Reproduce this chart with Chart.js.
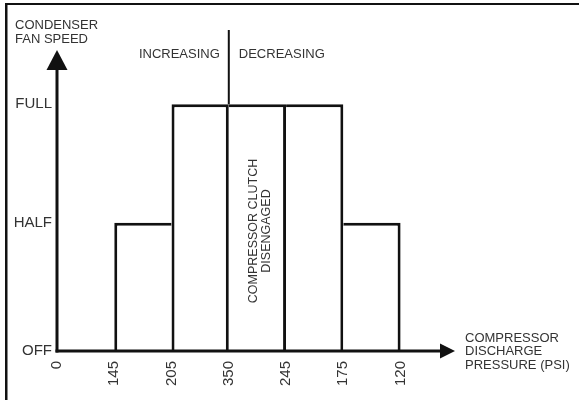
<!DOCTYPE html>
<html>
<head>
<meta charset="utf-8">
<script src="https://cdn.jsdelivr.net/npm/chart.js@4"></script>
<style>
  html, body { margin: 0; padding: 0; background: #fff; }
  #wrap { width: 579px; height: 400px; position: relative; }
</style>
</head>
<body>
<div id="wrap"><canvas id="fanChart"></canvas></div>
<script>
// pressure tick labels along the x axis (psi), left to right
const pressureTicks = ['0', '145', '205', '350', '245', '175', '120'];
// fan speed levels on the y axis
const speedNames = ['OFF', 'HALF', 'FULL'];
const speedValues = [0, 52, 100];
// fan speed in each band between consecutive pressure ticks (from 145 on)
const bandSpeeds = ['HALF', 'FULL', 'FULL', 'FULL', 'HALF'];

const FONT = "'Liberation Sans', Arial, sans-serif";
const INK = '#111';
const TEXT = '#333';

const speedOf = name => speedValues[speedNames.indexOf(name)];
const bandData = bandSpeeds.map((s, i) => ({ x: i + 1.5, y: speedOf(s) }));

const annotations = {
    id: 'annotations',
    afterDraw(chart) {
        const ctx = chart.ctx;
        const area = chart.chartArea;
        const xs = chart.scales.x;
        const ys = chart.scales.y;
        ctx.save();

        // frame (top and left edges)
        ctx.fillStyle = INK;
        ctx.fillRect(5, 3, 574, 2);
        ctx.fillRect(5, 3, 2.5, 397);

        // axes with arrows
        const x0 = area.left, y0 = area.bottom;
        ctx.fillRect(x0 - 1.5, area.top + 18, 3, y0 - area.top - 16.5);
        ctx.beginPath();
        ctx.moveTo(x0, area.top);
        ctx.lineTo(x0 - 10.5, area.top + 20);
        ctx.lineTo(x0 + 10.5, area.top + 20);
        ctx.closePath();
        ctx.fill();

        ctx.fillRect(x0 - 1.5, y0 - 1.5, area.right - x0 - 13, 3);
        ctx.beginPath();
        ctx.moveTo(area.right, y0);
        ctx.lineTo(area.right - 15, y0 - 7.5);
        ctx.lineTo(area.right - 15, y0 + 7.5);
        ctx.closePath();
        ctx.fill();

        // increasing / decreasing divider
        const xd = xs.getPixelForValue(3);
        const yFull = ys.getPixelForValue(speedOf('FULL'));
        ctx.fillRect(xd - 1, 30, 2, yFull - 30);

        ctx.fillStyle = TEXT;
        ctx.font = '13px ' + FONT;
        ctx.textBaseline = 'middle';
        ctx.textAlign = 'right';
        ctx.fillText('INCREASING', xd - 9, 54);
        ctx.textAlign = 'left';
        ctx.fillText('DECREASING', xd + 10, 54);

        // axis titles
        ctx.fillText('CONDENSER', 15, 25);
        ctx.fillText('FAN SPEED', 15, 39);
        ctx.fillText('COMPRESSOR', area.right + 10, y0 - 13);
        ctx.fillText('DISCHARGE', area.right + 10, y0);
        ctx.fillText('PRESSURE (PSI)', area.right + 10, y0 + 14);

        // rotated note in the 350-245 band
        const xc = (xs.getPixelForValue(3) + xs.getPixelForValue(4)) / 2;
        ctx.font = '12.5px ' + FONT;
        ctx.translate(xc, 231);
        ctx.rotate(-Math.PI / 2);
        ctx.textAlign = 'center';
        ctx.fillText('COMPRESSOR CLUTCH', 0, -4);
        ctx.fillText('DISENGAGED', 0, 9);
        ctx.restore();
    }
};

const ctx = document.getElementById('fanChart').getContext('2d');
new Chart(ctx, {
    type: 'bar',
    data: {
        datasets: [{
            data: bandData,
            backgroundColor: '#fff',
            borderColor: INK,
            borderSkipped: false,
            inflateAmount: 0,
            borderWidth: c => ({
                top: 3,
                bottom: 0,
                left: c.dataIndex <= 1 ? 3 : 0,
                right: c.dataIndex >= 1 ? 3 : 0
            }),
            barPercentage: 1,
            categoryPercentage: 1
        }]
    },
    options: {
        responsive: true,
        maintainAspectRatio: false,
        animation: false,
        layout: { autoPadding: false, padding: { top: 50, right: 124, left: 0, bottom: 0 } },
        plugins: { legend: { display: false }, tooltip: { enabled: false } },
        scales: {
            x: {
                type: 'linear',
                offset: false,
                min: 0,
                max: 6.95,
                border: { display: false },
                grid: { display: false, drawTicks: false },
                afterBuildTicks: s => { s.ticks = pressureTicks.map((_, i) => ({ value: i })); },
                afterFit: s => { s.height = 49; },
                ticks: {
                    autoSkip: false,
                    minRotation: 90,
                    maxRotation: 90,
                    padding: 10,
                    color: TEXT,
                    font: { family: FONT, size: 15 },
                    callback: v => pressureTicks[v]
                }
            },
            y: {
                min: 0,
                max: 122,
                border: { display: false },
                grid: { display: false, drawTicks: false },
                afterBuildTicks: s => { s.ticks = speedValues.map(v => ({ value: v })); },
                afterFit: s => { s.width = 57; },
                ticks: {
                    padding: 5,
                    color: TEXT,
                    font: { family: FONT, size: 15 },
                    callback: v => speedNames[speedValues.indexOf(v)]
                }
            }
        }
    },
    plugins: [annotations]
});
</script>
</body>
</html>
